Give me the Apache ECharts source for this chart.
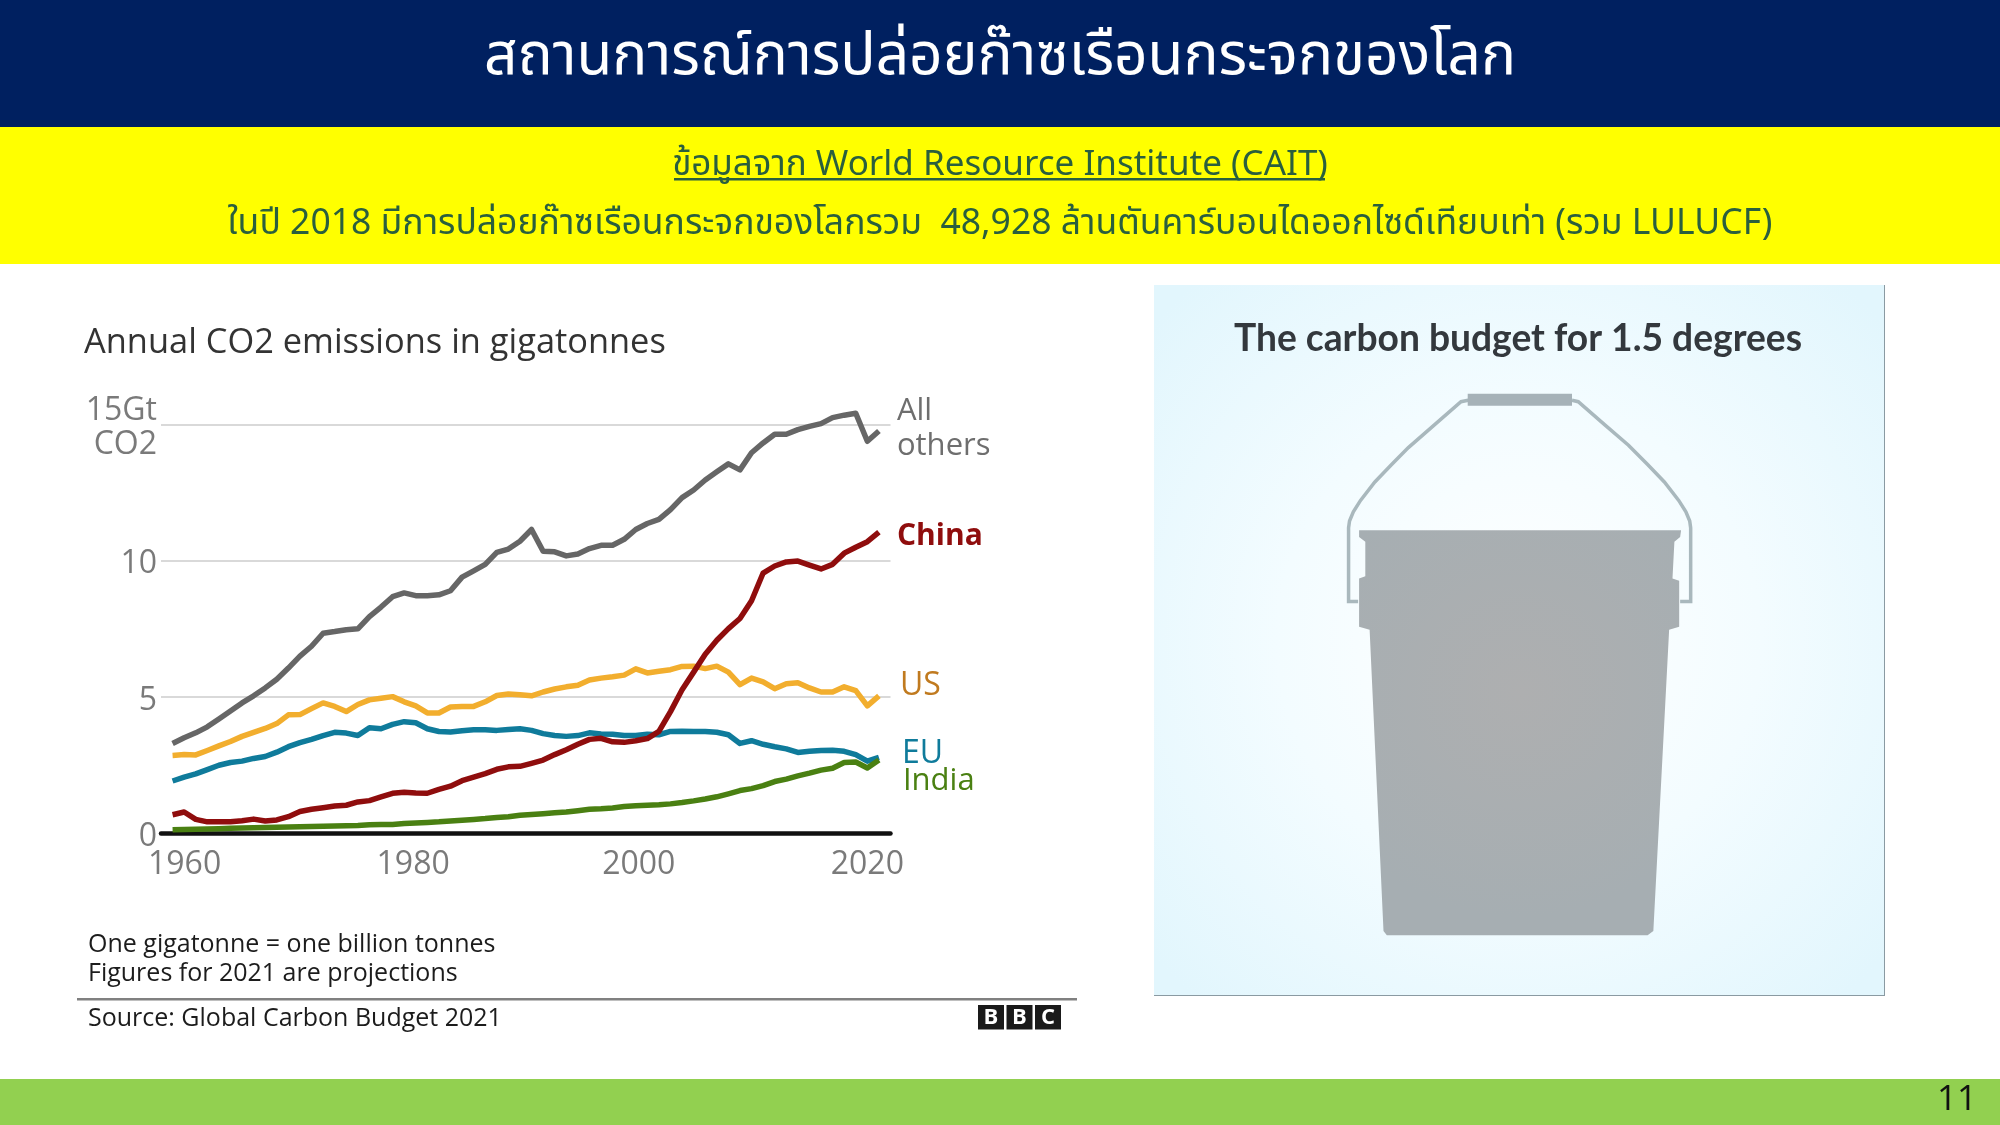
<!DOCTYPE html>
<html><head><meta charset="utf-8">
<style>html,body{margin:0;padding:0;background:#fff}#c{width:2000px;height:1125px}</style>
<script src="https://cdn.jsdelivr.net/npm/echarts@6/dist/echarts.min.js"></script>
</head><body><div id="c"></div>
<script>
const years = [];
for (let y = 1960; y <= 2021; y++) years.push(y);
const allOthers = [3.29,3.5,3.68,3.9,4.19,4.48,4.78,5.04,5.33,5.65,6.06,6.5,6.86,7.34,7.4,7.47,7.5,7.95,8.3,8.68,8.82,8.72,8.72,8.75,8.9,9.4,9.63,9.87,10.31,10.43,10.72,11.15,10.35,10.33,10.18,10.25,10.45,10.57,10.57,10.79,11.15,11.37,11.52,11.88,12.32,12.6,12.97,13.27,13.56,13.34,13.97,14.33,14.65,14.65,14.82,14.94,15.04,15.26,15.35,15.42,14.39,14.77];
const china = [0.67,0.77,0.5,0.41,0.41,0.41,0.45,0.51,0.44,0.48,0.6,0.79,0.87,0.93,0.99,1.02,1.14,1.19,1.33,1.46,1.5,1.47,1.46,1.6,1.72,1.92,2.05,2.18,2.34,2.43,2.45,2.56,2.68,2.88,3.06,3.26,3.44,3.48,3.35,3.33,3.39,3.47,3.73,4.46,5.26,5.91,6.57,7.08,7.51,7.88,8.53,9.55,9.81,9.96,9.99,9.84,9.7,9.87,10.28,10.5,10.7,11.05];
const us = [2.85,2.88,2.87,3.03,3.2,3.36,3.55,3.7,3.84,4.02,4.34,4.35,4.57,4.78,4.65,4.46,4.72,4.89,4.95,5.01,4.82,4.67,4.41,4.41,4.63,4.65,4.65,4.82,5.05,5.11,5.08,5.04,5.18,5.29,5.37,5.43,5.62,5.69,5.74,5.8,6.03,5.88,5.94,6.0,6.12,6.13,6.04,6.13,5.91,5.45,5.69,5.55,5.3,5.48,5.52,5.33,5.18,5.18,5.37,5.23,4.67,5.04];
const eu = [1.91,2.05,2.17,2.33,2.49,2.59,2.64,2.74,2.81,2.97,3.17,3.32,3.44,3.58,3.7,3.67,3.58,3.87,3.83,3.99,4.09,4.05,3.83,3.73,3.71,3.76,3.79,3.79,3.77,3.8,3.83,3.77,3.65,3.58,3.55,3.58,3.68,3.64,3.63,3.58,3.58,3.63,3.61,3.73,3.74,3.73,3.73,3.7,3.61,3.29,3.39,3.26,3.17,3.09,2.96,3.0,3.03,3.04,3.0,2.88,2.64,2.78];
const india = [0.12,0.13,0.14,0.15,0.16,0.17,0.18,0.19,0.2,0.21,0.22,0.23,0.24,0.25,0.26,0.27,0.28,0.3,0.31,0.31,0.35,0.37,0.39,0.41,0.44,0.47,0.5,0.53,0.57,0.6,0.65,0.68,0.71,0.74,0.77,0.82,0.87,0.89,0.92,0.97,1.0,1.02,1.04,1.07,1.12,1.18,1.25,1.33,1.44,1.56,1.63,1.74,1.89,1.98,2.1,2.2,2.31,2.38,2.59,2.61,2.39,2.68];
const xTicks = [1960,1980,2000,2020];
const yTicks = {0:'{a|0}',5:'{a|5}',10:'{a|10}',15:'{c|15Gt}\n{b|CO2}'};

const READ = 'Open Sans, Noto Sans, sans-serif';
const THAI = '"Noto Sans Thai","Noto Sans","DejaVu Sans",sans-serif';
const zx = v => 1150 + v / 2.09, zy = v => 280 + v / 2.178;
const pts = a => a.map(p => [zx(p[0]), zy(p[1])]);
const xShift = {1960:12,1980:9,2000:3,2020:0};

function txt(x,y,text,font,size,color,align,weight){
  return {type:'text',x,y,style:{text,fontFamily:font,fontSize:size,fill:color,align:align||'left',verticalAlign:'middle',fontWeight:weight||'normal'}};
}
const rect=(x,y,w,h,fill,z)=>({type:'rect',shape:{x,y,width:w,height:h},style:{fill},z:z||0});

const bbc = ['B','B','C'].flatMap((l,i)=>[
  rect(978+i*28.5,1005,26,24.5,'#1a1a1a'),
  txt(978+i*28.5+13,1017.5,l,READ,22,'#fff','center','bold')
]);

const graphic = [
  rect(0,0,2000,127,'#002060'),
  rect(0,127,2000,137,'#ffff00'),
  rect(0,1079,2000,46,'#92d050'),
  txt(1000,62,'สถานการณ์การปล่อยก๊าซเรือนกระจกของโลก',THAI,58.5,'#ffffff','center'),
  txt(1000,168,'ข้อมูลจาก World Resource Institute (CAIT)',THAI,35,'#2a5f3e','center'),
  rect(674,178,651,2.5,'#2a5f3e'),
  txt(1000,227,'ในปี 2018 มีการปล่อยก๊าซเรือนกระจกของโลกรวม  48,928 ล้านตันคาร์บอนไดออกไซด์เทียบเท่า (รวม LULUCF)',THAI,35.5,'#2a5f3e','center'),
  txt(1957,1100,'11',READ,35,'#111','center'),
  txt(84,343.5,'Annual CO2 emissions in gigatonnes',READ,34.4,'#333333'),
  txt(88,945,'One gigatonne = one billion tonnes',READ,25,'#1c1c1c'),
  txt(88,974,'Figures for 2021 are projections',READ,25,'#1c1c1c'),
  rect(77,998,1000,2.5,'#808080'),
  txt(88,1019,'Source: Global Carbon Budget 2021',READ,25,'#1c1c1c'),
  ...bbc,
  {type:'rect',shape:{x:1154,y:285,width:730,height:710},
   style:{fill:{type:'radial',x:0.5,y:0.5,r:0.68,colorStops:[{offset:0,color:'#ffffff'},{offset:0.5,color:'#f3fcff'},{offset:1,color:'#e2f6fd'}]}}},
  rect(1884,285,1,711,'#8a9aa2'),
  rect(1154,995,731,1,'#8a9aa2'),
  txt(1518,339,'The carbon budget for 1.5 degrees','Lato, Open Sans, sans-serif',37.2,'#33383d','center','bold'),
  {type:'polyline',z:2,shape:{points:pts([[435,700],[415,700],[415,540],[417,525],[425,505],[440,480],[470,440],[505,402],[540,365],[595,315],[650,265],[665,262]])},style:{stroke:'#a9b8bd',lineWidth:3.5,fill:null}},
  {type:'polyline',z:2,shape:{points:pts([[882,262],[895,265],[950,315],[1000,360],[1040,402],[1075,440],[1105,480],[1120,505],[1128,525],[1130,540],[1130,700],[1108,700]])},style:{stroke:'#a9b8bd',lineWidth:3.5,fill:null}},
  {type:'polygon',z:2,shape:{points:pts([[664,248],[882,248],[882,274],[664,274]])},style:{fill:'#a6b2b8'}},
  {type:'polygon',z:3,shape:{points:pts([[437,545],[1110,545],[1108,560],[1096,570],[1092,650],[1106,655],[1106,755],[1085,762],[1052,1418],[1040,1427],[495,1427],[488,1418],[459,762],[437,755],[437,650],[450,645],[450,570],[437,560]])},
   style:{fill:{type:'radial',x:0.5,y:0.4,r:0.7,colorStops:[{offset:0,color:'#aeafb0'},{offset:1,color:'#a6aeb2'}]}}}
];

function line(name,data,color,label,labelColor,dx,dy,weight,z,size){
  return {name,type:'line',data:data.map((v,i)=>[years[i],v]),symbol:'none',z:z,clip:false,
    lineStyle:{color,width:5.5,join:'round'},itemStyle:{color},
    endLabel:{show:true,formatter:label,color:labelColor,fontFamily:READ,fontSize:size||32,fontWeight:weight,lineHeight:35,offset:[dx,dy],distance:12}};
}
const chart = echarts.init(document.getElementById('c'),null,{renderer:'canvas'});
const tickFont = {fontSize:32,color:'#7a7a7a',fontFamily:READ,lineHeight:35};
chart.setOption({
  animation:false,backgroundColor:'#ffffff',graphic,
  grid:{left:161,right:1109.5,top:424.7,bottom:292,containLabel:false},
  xAxis:{type:'value',min:1959,max:2022,
    axisLine:{show:true,onZero:false,lineStyle:{color:'#111',width:4.5}},
    axisTick:{show:false},splitLine:{show:false},
    axisLabel:{customValues:xTicks,margin:16,color:'#7a7a7a',fontFamily:READ,fontSize:32,
      formatter:v=>`{s${v}|${v}}`,
      rich:Object.fromEntries(xTicks.map(v=>['s'+v,{padding:[0,0,0,2*xShift[v]],fontSize:32,color:'#7a7a7a',fontFamily:READ}]))}},
  yAxis:{type:'value',min:0,max:15,interval:5,
    axisLine:{show:false},axisTick:{show:false},
    splitLine:{lineStyle:{color:'#d9d9d9',width:2}},
    axisLabel:{margin:4,formatter:v=>yTicks[v],
      rich:{a:{...tickFont,padding:[7,0,0,0]},
            b:{...tickFont,padding:[6,0,0,0]},
            c:{...tickFont,padding:[7,0,0,0]}}}},
  series:[
    line('All others',allOthers,'#666666','All\nothers','#6e6e6e',6,-2,'normal',3,31),
    line('US',us,'#f2ae2e','US','#c07a1f',9,-10,'normal',3),
    line('EU',eu,'#0f7b9b','EU','#0f7b9b',11,-3,'normal',4),
    line('China',china,'#8f0d0d','China','#8f0d0d',6,4,'bold',5,30),
    line('India',india,'#4a8012','India','#4a8012',12,21,'normal',6,31)
  ]
});
</script></body></html>
